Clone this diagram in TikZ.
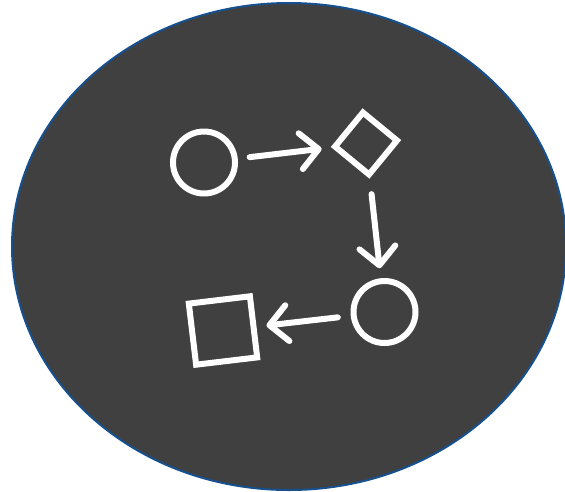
\documentclass[tikz,border=0pt]{standalone}
\usepackage{tikz}
\usetikzlibrary{arrows.meta,positioning}
\definecolor{PanelGray}{RGB}{64,64,64}
\definecolor{EdgeBlue}{RGB}{22,80,142}

\begin{document}
\begin{tikzpicture}[x=1pt, y=-1pt,
		figline/.style={draw=white, line width=6pt, inner sep=0pt},
		flow/.style={white, line width=6pt, line cap=round,
			-{Straight Barb[length=18pt, width=36pt, line cap=round, line join=round]}}]
		\useasboundingbox (0,0) rectangle (565,491);
		
		% background
		\filldraw[fill=PanelGray, draw=EdgeBlue, line width=2pt] (289,246.5) ellipse [x radius=277pt, y radius=243.5pt];
		
		\node[figline, circle, minimum size=62pt] (start) at (204,162.5) {};
		\node[figline, rectangle, minimum size=44pt, rotate=-39.4] (check) at (366,143.5) {};
		\node[figline, circle, minimum size=62pt] (loop) at (384.5,312) {};
		\node[figline, rectangle, minimum size=61.5pt, rotate=6.8] (stop) at (223,330.5) {};
		
		\draw[flow, shorten <=12pt, shorten >=10pt] (start) -- (check);
		\draw[flow, shorten <=16pt, shorten >=10pt] (check) -- (loop);
		\draw[flow, shorten <=13pt, shorten >=10pt] (loop) -- (stop);
	\end{tikzpicture}
\end{document}
